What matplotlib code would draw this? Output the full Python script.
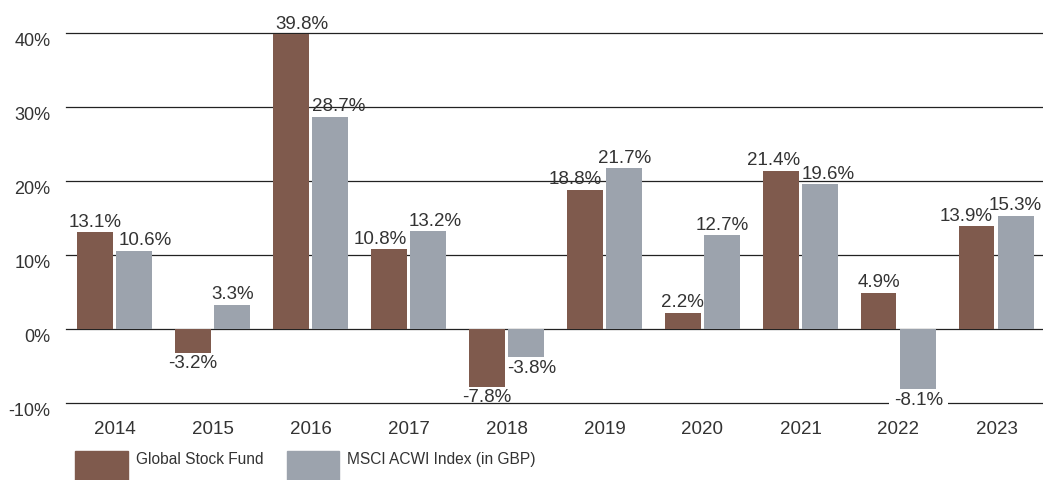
import matplotlib
matplotlib.use("Agg")
import matplotlib.pyplot as plt
from matplotlib.patches import Patch, Rectangle
from matplotlib.legend_handler import HandlerPatch
import numpy as np

years = ["2014", "2015", "2016", "2017", "2018", "2019", "2020", "2021", "2022", "2023"]
fund = [13.1, -3.2, 39.8, 10.8, -7.8, 18.8, 2.2, 21.4, 4.9, 13.9]
index = [10.6, 3.3, 28.7, 13.2, -3.8, 21.7, 12.7, 19.6, -8.1, 15.3]
series_names = ["Global Stock Fund", "MSCI ACWI Index (in GBP)"]
yticks = [-10, 0, 10, 20, 30, 40]

# label horizontal nudges (pixels) to avoid collisions
fund_dx = [0, 0, 11, -8, 0, -9, 0, -7, 0, -11]
index_dx = [11, 0, 8, 7, 5, 0, 0, 8, 0, -1]

BROWN = "#7f5a4d"
GRAY = "#9ca3ad"
TEXT = "#333333"

plt.rcParams['font.family'] = ['Liberation Sans', 'DejaVu Sans']

fig = plt.figure(figsize=(10.43, 4.8), dpi=100)
ax = fig.add_axes([66/1043, 77/480, 1 - 66/1043, (403-33)/480])

x = np.arange(len(years))
w = 0.364
gap = 0.02
b1 = ax.bar(x - w/2 - gap, fund, w, color=BROWN, zorder=3)
b2 = ax.bar(x + w/2 + gap, index, w, color=GRAY, zorder=3)

for yv in yticks:
    ax.axhline(yv, color="#222222", lw=0.9, zorder=1, clip_on=False)

LFS = 13.5

def label(bars, vals, dxs, boxed_neg):
    for bar, v, dx in zip(bars, vals, dxs):
        cx = bar.get_x() + bar.get_width()/2
        if v >= 0:
            ax.annotate(f"{v:.1f}%", (cx, v), xytext=(dx*0.72, 1.0), textcoords="offset points",
                        ha="center", va="bottom", fontsize=LFS, color=TEXT, zorder=4,
                        annotation_clip=False)
        else:
            bb = dict(boxstyle="square,pad=0.25", fc="white", ec="none") if boxed_neg else None
            ax.annotate(f"{v:.1f}%", (cx, v), xytext=(dx*0.72, -2), textcoords="offset points",
                        ha="center", va="top", fontsize=LFS, color=TEXT, zorder=2,
                        annotation_clip=False, bbox=bb)

label(b1, fund, fund_dx, False)
label(b2, index, index_dx, True)

ax.set_xlim(-0.495, 9.475)
ax.set_ylim(-10, 40)
ax.set_yticks(yticks)
ax.set_yticklabels([f"{t}%" for t in yticks])
ax.set_xticks(x)
ax.set_xticklabels(years)
ax.tick_params(axis="both", length=0, colors=TEXT)
ax.tick_params(axis="y", pad=11, labelsize=13)
ax.tick_params(axis="x", pad=13, labelsize=13.5)
for lab in ax.get_yticklabels():
    lab.set_va("top")
for s in ax.spines.values():
    s.set_visible(False)


def legend_rect(legend, orig_handle, xdescent, ydescent, width, height, fontsize):
    return Rectangle((-xdescent, -1.06 * fontsize), width, 1.9 * fontsize)


handles = [Patch(color=BROWN), Patch(color=GRAY)]
fig.legend(handles, series_names, loc="center left", bbox_to_anchor=(75/1043, 20.5/480),
           bbox_transform=fig.transFigure, ncol=2, frameon=False, fontsize=11.2,
           handlelength=3.4, handleheight=1.0, handletextpad=0.5, columnspacing=1.5,
           borderpad=0, borderaxespad=0, labelcolor=TEXT,
           handler_map={Patch: HandlerPatch(patch_func=legend_rect)})

fig.savefig("out.png", dpi=100)
